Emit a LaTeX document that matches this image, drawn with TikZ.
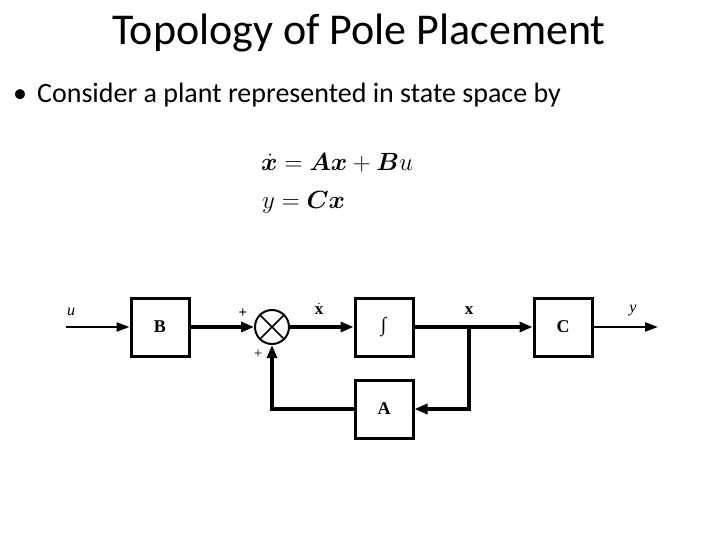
\documentclass[tikz,border=0pt]{standalone}
\usepackage{amsmath,bm}
\usepackage{fontspec}
\setmainfont{Carlito}
\newfontfamily\tms{Liberation Serif}
\usetikzlibrary{arrows.meta}
\begin{document}
\begin{tikzpicture}[x=1pt,y=-1pt,
  blk/.style={draw,line width=3pt,minimum width=58pt,minimum height=58pt,inner sep=0pt,font=\tms\fontsize{18}{20}\selectfont},
  thickln/.style={line width=3.2pt,-{Triangle[length=13pt,width=10pt]}},
  thinln/.style={line width=2.3pt,-{Triangle[length=13pt,width=9pt]}},
  lbl/.style={font=\tms\fontsize{17}{19}\selectfont,inner sep=0pt}]
\useasboundingbox (0,0) rectangle (720,540);
\node[font=\fontsize{44}{48}\selectfont] (title) at (359,33) {Topology of Pole Placement};
\node[anchor=west,font=\fontsize{28}{32}\selectfont,inner sep=0pt] (bullet) at (13,95) {\textbullet\hspace{10pt}Consider a plant represented in state space by};
\node[anchor=west,font=\fontsize{25}{28}\selectfont,inner sep=0pt] (eq1) at (261,163) {$\dot{\bm x} = \bm{A}\bm{x} + \bm{B}u$};
\node[anchor=west,font=\fontsize{25}{28}\selectfont,inner sep=0pt] (eq2) at (262,202) {$y = \bm{C}\bm{x}$};
% blocks
\node[blk] (B) at (160,327) {\textbf{B}};
\node[blk] (I) at (384,327) {\fontsize{20}{22}\selectfont\textit{∫}};
\node[blk] (C) at (563,327) {\textbf{C}};
\node[blk] (L) at (384,409) {\textbf{A}};
\node[draw,circle,line width=2pt,minimum size=34pt,inner sep=0pt] (S) at (272,327) {};
\draw[line width=1.6pt] (S.north west) -- (S.south east) (S.north east) -- (S.south west);
\coordinate (uin) at (66,327);
\coordinate (yout) at (658,327);
\coordinate (br) at (469,327);
% connectors
\draw[thinln] (uin) -- (B);
\draw[thickln] (B) -- (S);
\draw[thickln] (S) -- (I);
\draw[thickln] (I) -- (C);
\draw[thinln] (C) -- (yout);
\draw[line width=3.2pt,line join=miter] (br) |- ([xshift=14pt]L.east);
\draw[thickln] ([xshift=15pt]L.east) -- (L.east);
\draw[thickln] (L.west) -| (S.south);
% labels
\node[lbl,font=\tms\fontsize{16}{18}\selectfont] (lu) at (71,312) {\textit{u}};
\node[lbl,font=\tms\fontsize{15}{17}\selectfont] (lp1) at (243,313) {\textbf{+}};
\node[lbl,font=\tms\fontsize{15}{17}\selectfont] (lp2) at (258,354) {+};
\node[lbl] (lxd) at (319,309) {$\dot{\text{\tms\bfseries x}}$};
\node[lbl] (lx) at (469,311) {\textbf{x}};
\node[lbl,font=\tms\fontsize{16}{18}\selectfont] (ly) at (633,311) {\textit{y}};
\end{tikzpicture}
\end{document}
